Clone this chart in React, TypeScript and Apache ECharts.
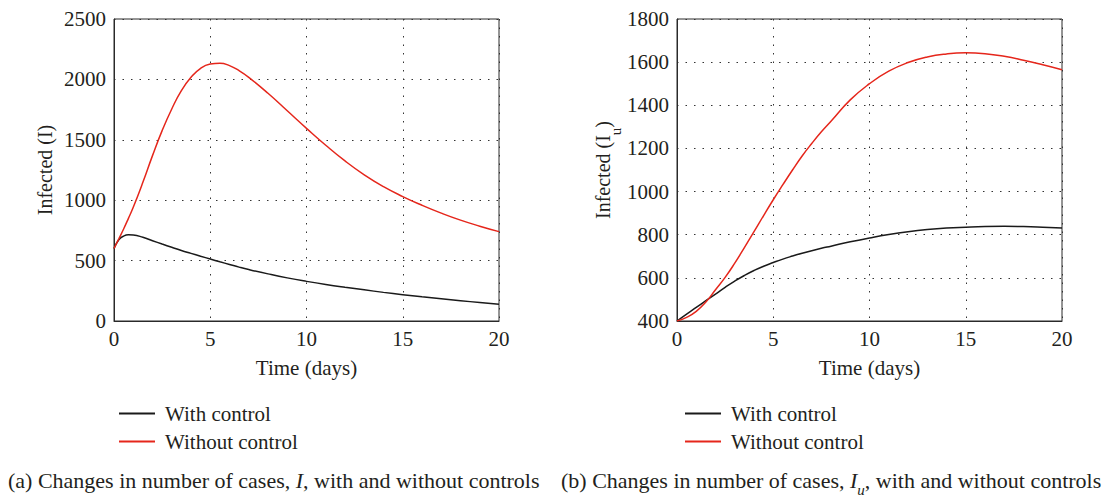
import React, { useEffect, useRef } from "react";
import * as echarts from "echarts";

// ---- Data ----
const timeA = [0, 0.25, 0.5, 0.75, 1, 1.5, 2, 2.5, 3, 3.5, 4, 4.5, 5, 5.5, 6, 6.5, 7, 8, 9, 10, 11, 12, 13, 14, 15, 16, 17, 18, 19, 20];
const withControlA = [600, 672, 703, 714, 712, 693, 665, 637, 610, 584, 560, 536, 513, 490, 468, 446, 426, 390, 357, 328, 302, 279, 258, 237, 218, 200, 184, 168, 153, 138];
const withoutControlA = [600, 680, 762, 850, 941, 1148, 1369, 1576, 1755, 1907, 2017, 2092, 2127, 2134, 2114, 2072, 2017, 1885, 1740, 1595, 1455, 1325, 1210, 1112, 1030, 958, 893, 835, 785, 740];

const timeB = [0, 0.5, 1, 1.5, 2, 2.5, 3, 3.5, 4, 4.5, 5, 5.5, 6, 6.5, 7, 7.5, 8, 9, 10, 11, 12, 13, 14, 15, 16, 17, 18, 19, 20];
const withControlB = [400, 432, 463, 494, 525, 556, 585, 611, 634, 654, 671, 687, 701, 714, 726, 737, 747, 767, 785, 801, 814, 824, 831, 835, 838, 839, 838, 835, 831];
const withoutControlB = [400, 417, 445, 488, 545, 602, 668, 740, 814, 889, 962, 1032, 1100, 1165, 1223, 1277, 1326, 1425, 1500, 1558, 1598, 1624, 1638, 1643, 1639, 1627, 1609, 1588, 1565];

const xTicks = { min: 0, max: 20, interval: 5 };
const yTicksA = { min: 0, max: 2500, interval: 500 };
const yTicksB = { min: 400, max: 1800, interval: 200 };

const legendNames = ["With control", "Without control"];
const captionA = "(a) Changes in number of cases, {i|I}, with and without controls";
const captionB = "(b) Changes in number of cases, {i|I}{sub|u}, with and without controls";

const FONT = "Liberation Serif";
const TXT = "#231f20";
const BLACK = "#1a1a1a";
const RED = "#e5261b";

function zip(t: number[], v: number[]) {
  return t.map((x, i) => [x, v[i]]);
}

export default function App() {
  const ref = useRef<HTMLDivElement>(null);
  useEffect(() => {
    document.body.style.margin = "0";
    const chart = echarts.init(ref.current!, null, { renderer: "svg" });
    const grid = (left: number, top: number) => ({
      left, top, width: 385, height: 302,
      show: true, borderColor: "#2a2a2a", borderWidth: 1, backgroundColor: "transparent",
    });
    const splitLine = { show: true, lineStyle: { color: "#333", width: 1, type: [1.5, 7] as any } };
    const xAxis = (gi: number) => ({
      type: "value", gridIndex: gi, ...xTicks,
      name: "Time (days)", nameLocation: "middle", nameGap: 36,
      nameTextStyle: { fontFamily: FONT, fontSize: 21, color: TXT },
      axisLine: { show: true, lineStyle: { color: "#2a2a2a" } },
      axisTick: { show: false },
      axisLabel: { fontFamily: FONT, fontSize: 21, color: TXT, margin: 7, formatter: (v: number) => String(v) },
      splitLine,
    });
    const yAxis = (gi: number, ticks: any, name: string, gap: number) => ({
      type: "value", gridIndex: gi, ...ticks,
      name, nameLocation: "middle", nameGap: gap,
      nameTextStyle: {
        fontFamily: FONT, fontSize: 20, color: TXT,
        rich: { sub: { fontFamily: FONT, fontSize: 15, color: TXT, verticalAlign: "bottom", padding: [0, 0, -10, 0] } },
      },
      axisLine: { show: true, lineStyle: { color: "#2a2a2a" } },
      axisTick: { show: false },
      axisLabel: { fontFamily: FONT, fontSize: 21, color: TXT, margin: 8, formatter: (v: number) => String(v) },
      splitLine,
    });
    const line = (name: string, color: string, data: number[][], gi: number) => ({
      type: "line", name, xAxisIndex: gi, yAxisIndex: gi, data,
      smooth: 0.5, symbol: "none", showSymbol: false,
      lineStyle: { color, width: 1.5 }, itemStyle: { color },
    });
    const legend = (left: number) => ({
      left, top: 398, orient: "vertical", itemWidth: 36, itemHeight: 2, itemGap: 7, icon: "rect",
      data: legendNames, selectedMode: false,
      textStyle: { fontFamily: FONT, fontSize: 21, color: TXT, padding: [0, 0, 0, 5], lineHeight: 21 },
    });
    const caption = (left: number, text: string) => ({
      left, top: 469, text, padding: 0,
      textStyle: {
        fontFamily: FONT, fontSize: 22, fontWeight: "normal", color: TXT,
        rich: {
          i: { fontFamily: FONT, fontSize: 22, fontStyle: "italic", color: TXT },
          sub: { fontFamily: FONT, fontSize: 15, fontStyle: "italic", color: TXT, verticalAlign: "bottom", padding: [0, 0, -6, 0] },
        },
      },
    });
    chart.setOption({
      animation: false,
      backgroundColor: "#fff",
      grid: [grid(114, 19), grid(677, 19)],
      xAxis: [xAxis(0), xAxis(1)],
      yAxis: [
        yAxis(0, yTicksA, "Infected (I)", 59),
        yAxis(1, yTicksB, "Infected (I{sub|u})", 59),
      ],
      legend: [legend(114), legend(680)],
      title: [caption(8, captionA), caption(561, captionB)],
      series: [
        line(legendNames[0], BLACK, zip(timeA, withControlA), 0),
        line(legendNames[1], RED, zip(timeA, withoutControlA), 0),
        line(legendNames[0], BLACK, zip(timeB, withControlB), 1),
        line(legendNames[1], RED, zip(timeB, withoutControlB), 1),
      ],
    });
    return () => chart.dispose();
  }, []);
  return <div ref={ref} style={{ position: "absolute", left: 0, top: 0, width: 1103, height: 497 }} />;
}
